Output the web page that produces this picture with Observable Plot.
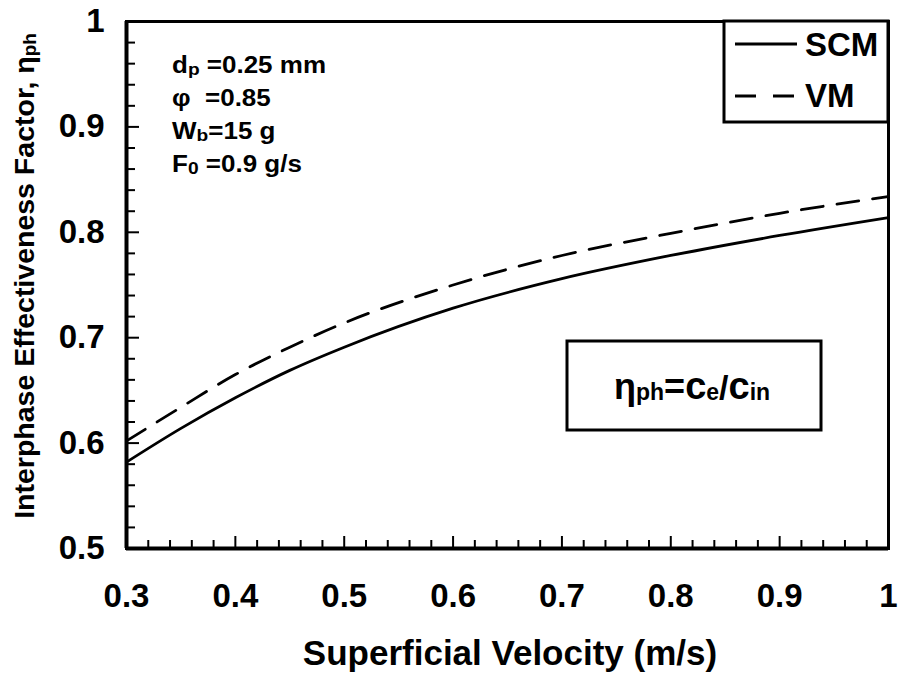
<!DOCTYPE html>
<html>
<head>
<meta charset="utf-8">
<script src="https://cdn.jsdelivr.net/npm/d3@7"></script>
<script src="https://cdn.jsdelivr.net/npm/@observablehq/plot@0.6"></script>
<style>
  html, body { margin: 0; padding: 0; background: #fff; }
  #chart { width: 898px; height: 676px; }
</style>
</head>
<body>
<div id="chart"></div>
<script>
// ---- data ----
const velocity = [0.3, 0.35, 0.4, 0.45, 0.5, 0.6, 0.7, 0.8, 0.9, 1.0];
const scm = [0.582, 0.614, 0.643, 0.669, 0.691, 0.728, 0.756, 0.778, 0.797, 0.814];
const vm  = [0.602, 0.634, 0.665, 0.691, 0.714, 0.750, 0.778, 0.799, 0.818, 0.834];
const xTickLabels = [0.3, 0.4, 0.5, 0.6, 0.7, 0.8, 0.9, 1];
const yTickLabels = [0.5, 0.6, 0.7, 0.8, 0.9, 1];
const xMinor = d3.range(16, 50).map(i => i / 50).filter(v => Math.round(v * 100) % 10 !== 0);
const xMajor = [0.4, 0.5, 0.6, 0.7, 0.8, 0.9];
const yMinor = d3.range(26, 50).map(i => i / 50).filter(v => Math.round(v * 100) % 10 !== 0);
const yMajor = [0.6, 0.7, 0.8, 0.9];
const seriesNames = ["SCM", "VM"];

const scmData = velocity.map((v, i) => ({x: v, y: scm[i]}));
const vmData = velocity.map((v, i) => ({x: v, y: vm[i]}));

const W = 898, H = 676, mL = 126, mR = 10, mT = 21, mB = 128;
const pw = W - mL - mR, ph = H - mT - mB;
const FONT = "'Liberation Sans', Arial, Helvetica, sans-serif";

const plot = Plot.plot({
  width: W, height: H,
  marginLeft: mL, marginRight: mR, marginTop: mT, marginBottom: mB,
  style: {fontFamily: FONT, fontWeight: "bold", fontSize: "33px", color: "#000", background: "#fff"},
  x: {domain: [0.3, 1]},
  y: {domain: [0.5, 1]},
  marks: [
    Plot.frame({stroke: "#000", strokeWidth: 3}),
    Plot.tickX(xMinor, {x: d => d, insetTop: ph - 8, stroke: "#000", strokeWidth: 2}),
    Plot.tickX(xMajor, {x: d => d, insetTop: ph - 12, stroke: "#000", strokeWidth: 2}),
    Plot.tickY(yMinor, {y: d => d, insetRight: pw - 9, stroke: "#000", strokeWidth: 2}),
    Plot.tickY(yMajor, {y: d => d, insetRight: pw - 13, stroke: "#000", strokeWidth: 2}),
    Plot.ruleX([0.3], {stroke: "#000", strokeWidth: 4}),
    Plot.ruleY([0.5], {stroke: "#000", strokeWidth: 4}),
    Plot.line(scmData, {x: "x", y: "y", curve: "monotone-x", stroke: "#000", strokeWidth: 2.8}),
    Plot.line(vmData, {x: "x", y: "y", curve: "monotone-x", stroke: "#000", strokeWidth: 2.8, strokeDasharray: "22,14"}),
    Plot.axisX({ticks: xTickLabels, tickSize: 0, tickPadding: 35, tickFormat: d => String(d), label: null,
                fontSize: 33, fontWeight: "bold", fontFamily: FONT}),
    Plot.axisY({ticks: yTickLabels, tickSize: 0, tickPadding: 22, tickFormat: d => String(d), label: null,
                fontSize: 33, fontWeight: "bold", fontFamily: FONT})
  ]
});

document.getElementById("chart").appendChild(plot);

const svg = d3.select(plot);
const g = svg.append("g").attr("font-family", FONT).attr("font-weight", "bold")
  .attr("fill", "#000").attr("text-anchor", "start");

// x-axis title
g.append("text").attr("x", 510).attr("y", 665).attr("text-anchor", "middle")
  .attr("font-size", 35).text("Superficial Velocity (m/s)");

// y-axis title
const yt = g.append("text").attr("transform", "translate(34,276) rotate(-90)").attr("text-anchor", "middle")
  .attr("font-size", 28.5);
yt.append("tspan").text("Interphase Effectiveness Factor, η");
yt.append("tspan").attr("font-size", 19).attr("dy", 2).text("ph");

// parameter block (slightly wide lettering as in the reference)
const params = [
  [["d", 23, 0], ["p", 17, 2], [" =0.25 mm", 23, -2]],
  [["φ  =0.85", 23, 0]],
  [["W", 23, 0], ["b", 17, 2], ["=15 g", 23, -2]],
  [["F", 23, 0], ["0", 17, 2], [" =0.9 g/s", 23, -2]]
];
const pg = g.append("g").attr("transform", "translate(172,0) scale(1.13,1)");
params.forEach((line, i) => {
  const t = pg.append("text").attr("x", 0).attr("y", 73 + i * 33).attr("font-size", 23);
  line.forEach(([s, fs, dy]) => t.append("tspan").attr("font-size", fs).attr("dy", dy).text(s));
});

// legend box
g.append("rect").attr("x", 724).attr("y", mT).attr("width", W - mR - 724).attr("height", 101)
  .attr("fill", "#fff").attr("stroke", "#000").attr("stroke-width", 3);
g.append("line").attr("x1", 735).attr("x2", 797).attr("y1", 44).attr("y2", 44)
  .attr("stroke", "#000").attr("stroke-width", 2.8);
g.append("line").attr("x1", 735).attr("x2", 797).attr("y1", 96).attr("y2", 96)
  .attr("stroke", "#000").attr("stroke-width", 2.8).attr("stroke-dasharray", "21,17");
g.append("text").attr("x", 805).attr("y", 56).attr("font-size", 33).text(seriesNames[0]);
g.append("text").attr("x", 805).attr("y", 107).attr("font-size", 33).text(seriesNames[1]);

// formula box
g.append("rect").attr("x", 567).attr("y", 341).attr("width", 254).attr("height", 89)
  .attr("fill", "#fff").attr("stroke", "#000").attr("stroke-width", 3);
const ft = g.append("text").attr("x", 614).attr("y", 399).attr("font-size", 30);
[["η", 36, 0], ["ph", 23, 1], ["=", 36, -1], ["c", 38, 0], ["e", 23, 1], ["/", 34, -1], ["c", 38, 0], ["in", 23, 1]]
  .forEach(([s, fs, dy]) => ft.append("tspan").attr("font-size", fs).attr("dy", dy).text(s));
</script>
</body>
</html>
